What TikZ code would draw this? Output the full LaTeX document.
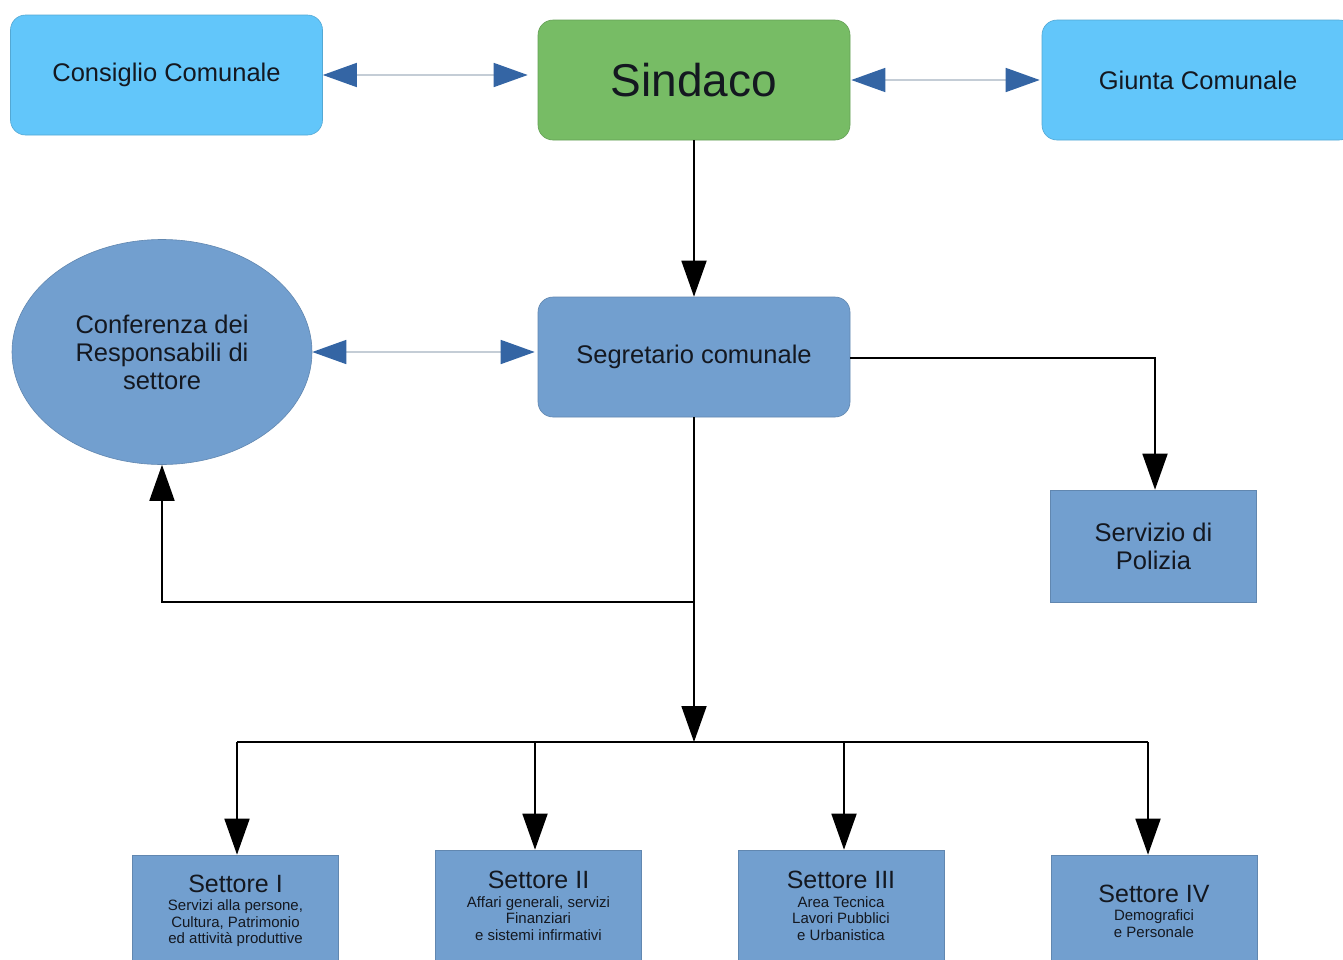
\documentclass[tikz,border=0pt]{standalone}
\usepackage{fontspec}
\setmainfont{Liberation Sans}
\usetikzlibrary{shapes.geometric,arrows.meta}
\definecolor{lblue}{HTML}{62C6FA}
\definecolor{sgreen}{HTML}{77BC65}
\definecolor{mblue}{HTML}{729FCF}
\definecolor{headblue}{HTML}{3465A4}
\definecolor{thinline}{HTML}{C4CDD6}
\definecolor{txt}{HTML}{141820}
\begin{document}
\begin{tikzpicture}[x=1pt,y=-1pt,
  every node/.style={text=txt},
  topbox/.style={rectangle,rounded corners=15pt,fill=lblue,draw=lblue!85!black,line width=0.6pt,minimum width=312pt,minimum height=120pt,inner sep=0pt,font=\fontsize{25.5}{28}\selectfont},
  midbox/.style={rectangle,rounded corners=15pt,fill=mblue,draw=mblue!85!black,line width=0.6pt,minimum width=312pt,minimum height=120pt,inner sep=0pt,font=\fontsize{25.5}{28}\selectfont},
  sqbox/.style={rectangle,fill=mblue,draw=mblue!85!black,line width=0.6pt,minimum width=206pt,minimum height=112pt,inner sep=0pt,align=center,font=\fontsize{15}{16.5}\selectfont},
  dblarrow/.style={draw=thinline,line width=1.6pt,{Triangle[length=34pt,width=24pt,fill=headblue,color=headblue]}-{Triangle[length=34pt,width=24pt,fill=headblue,color=headblue]}},
  blackarrow/.style={draw=black,line width=1.8pt,-{Triangle[length=36pt,width=25pt]}},
  blackline/.style={draw=black,line width=1.8pt}
]
\useasboundingbox (0,0) rectangle (1343,959);
\fill[white] (0,0) rectangle (1343,959);

\node[topbox] (cons) at (166.5,75) {Consiglio Comunale};
\node[topbox,fill=sgreen,draw=sgreen!85!black,font=\fontsize{46}{50}\selectfont] (sind) at (694,80) {Sindaco};
\node[topbox] (giunta) at (1198,80) {Giunta Comunale};

\node[midbox] (segr) at (694,357) {Segretario comunale};
\node[ellipse,fill=mblue,draw=mblue!85!black,line width=0.6pt,minimum width=300pt,minimum height=225pt,inner sep=0pt,align=center,font=\fontsize{25.5}{28}\selectfont] (conf) at (162,352) {Conferenza dei\\Responsabili di\\settore};
\node[sqbox,font=\fontsize{25.5}{28}\selectfont] (pol) at (1153.5,546) {Servizio di\\Polizia};

\node[sqbox] (s1) at (235.5,911) {{\fontsize{25}{25}\selectfont Settore I}\\[2pt]Servizi alla persone,\\Cultura, Patrimonio\\ed attività produttive};
\node[sqbox] (s2) at (538.5,906) {{\fontsize{25}{25}\selectfont Settore II}\\[2pt]Affari generali, servizi\\Finanziari\\e sistemi infirmativi};
\node[sqbox] (s3) at (841,906) {{\fontsize{25}{25}\selectfont Settore III}\\[2pt]Area Tecnica\\Lavori Pubblici\\e Urbanistica};
\node[sqbox] (s4) at (1154,911) {{\fontsize{25}{25}\selectfont Settore IV}\\[2pt]Demografici\\e Personale};

% double arrows
\draw[dblarrow,shorten >=10pt] (cons.east) -- (cons.east -| sind.west);
\draw[dblarrow,shorten <=1pt,shorten >=2pt] (sind.east) -- (giunta.west);
\draw[dblarrow,shorten >=3pt] (conf.east) -- (conf.east -| segr.west);

% hierarchy
\coordinate (bus) at (694,742);
\coordinate (branch) at (694,602);
\coordinate (polturn) at (1155,358);
\draw[blackarrow] (sind.south) -- (segr.north);
\draw[blackarrow] (segr.east |- polturn) -- (polturn) -- (pol.north -| polturn);
\draw[blackarrow] (segr.south) -- (bus);
\draw[blackarrow] (branch) -- (branch -| conf.south) -- (conf.south);
\draw[blackline] (237,742) -- (1148,742);
\draw[blackarrow] (bus -| 237,0) -- (237,0 |- s1.north);
\draw[blackarrow] (bus -| 535,0) -- (535,0 |- s2.north);
\draw[blackarrow] (bus -| 844,0) -- (844,0 |- s3.north);
\draw[blackarrow] (bus -| 1148,0) -- (1148,0 |- s4.north);
\end{tikzpicture}
\end{document}
